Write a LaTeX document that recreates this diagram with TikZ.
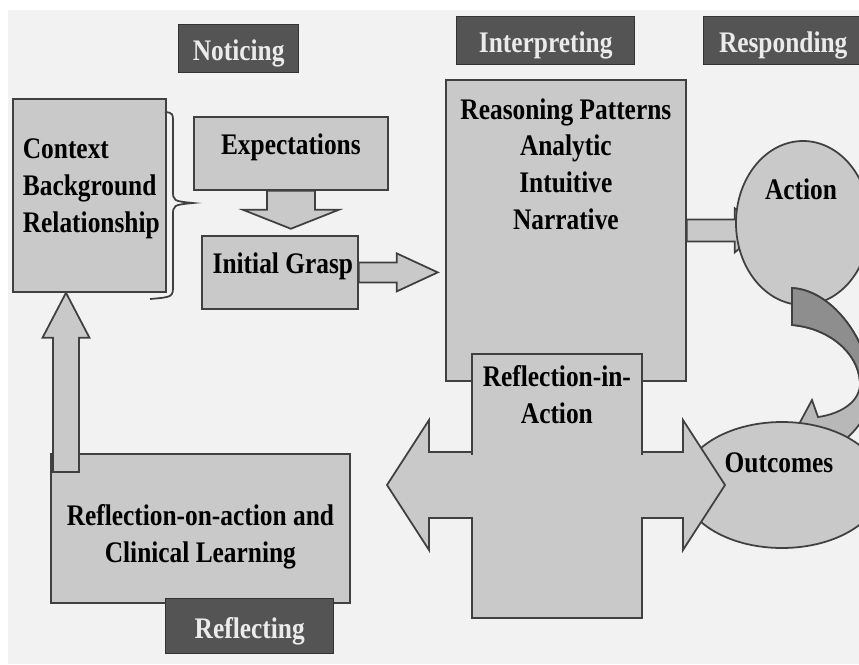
\documentclass[tikz,border=0pt]{standalone}
\usepackage{fontspec}
\newfontfamily\figfont{Liberation Serif}[FakeStretch=0.85]
\usetikzlibrary{positioning,calc,shapes.geometric}

\definecolor{pagegray}{HTML}{F2F2F2}
\definecolor{boxgray}{HTML}{C9C9C9}
\definecolor{tabgray}{HTML}{545454}
\definecolor{bendgray}{HTML}{8E8E8E}
\definecolor{bendlight}{HTML}{B8B8B8}
\newcommand{\px}{0.02cm}
\newcommand{\figtext}{\figfont\bfseries\fontsize{17}{21}\selectfont}

\tikzset{
  box/.style={draw=black!75, fill=boxgray, line width=1pt, inner sep=0pt, anchor=north west},
  tab/.style={draw=black!80, fill=tabgray, line width=0.8pt, inner sep=0pt, anchor=north west,
    text=white!92!black, font=\figtext, text height=13.5pt, text depth=0pt},
  oval/.style={ellipse, draw=black!75, fill=boxgray, line width=1pt, inner sep=0pt},
  txt/.style={font=\figtext, inner sep=0pt, align=center},
  fat/.style={draw=black!75, fill=boxgray, line width=1pt, line join=miter},
  % shaft half width, head half width, head length
  blockarrow/.style n args={3}{to path={
    ($(\tikztostart)!#1!90:(\tikztotarget)$)
    -- ($(\tikztotarget)!#3!(\tikztostart)!#1!90:(\tikztotarget)$)
    -- ($(\tikztotarget)!#3!(\tikztostart)!#2!90:(\tikztotarget)$)
    -- (\tikztotarget)
    -- ($(\tikztotarget)!#3!(\tikztostart)!#2!-90:(\tikztotarget)$)
    -- ($(\tikztotarget)!#3!(\tikztostart)!#1!-90:(\tikztotarget)$)
    -- ($(\tikztostart)!#1!-90:(\tikztotarget)$) -- cycle}},
  dblockarrow/.style n args={3}{to path={
    (\tikztostart)
    -- ($(\tikztostart)!#3!(\tikztotarget)!#2!90:(\tikztotarget)$)
    -- ($(\tikztostart)!#3!(\tikztotarget)!#1!90:(\tikztotarget)$)
    -- ($(\tikztotarget)!#3!(\tikztostart)!#1!90:(\tikztotarget)$)
    -- ($(\tikztotarget)!#3!(\tikztostart)!#2!90:(\tikztotarget)$)
    -- (\tikztotarget)
    -- ($(\tikztotarget)!#3!(\tikztostart)!#2!-90:(\tikztotarget)$)
    -- ($(\tikztotarget)!#3!(\tikztostart)!#1!-90:(\tikztotarget)$)
    -- ($(\tikztostart)!#3!(\tikztotarget)!#1!-90:(\tikztotarget)$)
    -- ($(\tikztostart)!#3!(\tikztotarget)!#2!-90:(\tikztotarget)$) -- cycle}},
}

\begin{document}
\begin{tikzpicture}[x=\px, y=-\px]
  \useasboundingbox (0,0) rectangle (859,664);
  \clip (0,0) rectangle (859,664);
  \fill[pagegray] (8,10) rectangle (859,664);

  % phase tabs
  \node[tab, minimum width=120*\px, minimum height=48*\px] (notice) at (178,24) {Noticing};
  \node[tab, minimum width=178*\px, minimum height=48*\px] (interpret) at (456,16) {Interpreting};
  \node[tab, minimum width=159*\px, minimum height=48*\px] (respond) at (703,16) {Responding};

  % noticing
  \node[box, minimum width=153*\px, minimum height=193*\px] (ctx) at (12,98) {};
  \draw[line width=1pt, black!75] (165,112) .. controls (173,113) .. (173,125) -- (173,190)
    .. controls (173,201) .. (193,203) .. controls (173,205) .. (173,216) -- (173,285)
    .. controls (173,297) .. (150,299);
  \node[box, minimum width=194*\px, minimum height=73*\px] (exp) at (193,116) {};
  \node[box, minimum width=156*\px, minimum height=73*\px] (grasp) at (201,235) {};
  \coordinate (exptip) at ($(exp.south)+(0,38)$);
  \draw[fat, blockarrow={24*\px}{48*\px}{19*\px}] (exp.south) to (exptip);
  \coordinate (grasptip) at ($(grasp.east)+(79,0)$);
  \draw[fat, blockarrow={10*\px}{19*\px}{41*\px}] (grasp.east) to (grasptip);

  % interpreting
  \node[box, minimum width=240*\px, minimum height=301*\px] (reas) at (445,79) {};
  \coordinate (reastip) at ($(reas.east)+(75,0)$);
  \draw[fat, blockarrow={11*\px}{22*\px}{27*\px}] (reas.east) to (reastip);

  % responding
  \node[oval, minimum width=134*\px, minimum height=164*\px] (action) at (803,223) {};
  \filldraw[fill=bendlight, draw=black!75, line width=1pt]
    (792,288) .. controls (830,290) and (866,335) .. (872,385)
    .. controls (874,408) and (858,430) .. (842,442) -- (798,426) -- (812,400) -- (818,417)
    .. controls (840,414) and (861,402) .. (860,382)
    .. controls (858,352) and (828,328) .. (792,325) -- cycle;
  \filldraw[fill=bendgray, draw=black!75, line width=1pt]
    (792,288) .. controls (830,290) and (866,335) .. (872,385) -- (860,382)
    .. controls (858,352) and (828,328) .. (792,325) -- cycle;
  \node[oval, minimum width=200*\px, minimum height=126*\px] (outcomes) at (782,485) {};

  % reflection in action
  \coordinate (inleft) at (387,485);
  \coordinate (inright) at (725,485);
  \draw[fat, dblockarrow={33*\px}{65*\px}{42*\px}] (inleft) to (inright);
  \node[box, minimum width=170*\px, minimum height=264*\px] (inact) at (471,353) {};
  \fill[boxgray] ($(inact.west)+(-4,-31)$) rectangle ($(inact.east)+(4,31)$);

  % reflecting
  \node[box, minimum width=299*\px, minimum height=149*\px] (onact) at (50,453) {};
  \coordinate (upfoot) at ($(onact.north west)+(16,19)$);
  \coordinate (uptip) at (upfoot |- ctx.south);
  \draw[fat, blockarrow={13*\px}{23.5*\px}{45*\px}] (upfoot) to (uptip);
  \node[tab, minimum width=168*\px, minimum height=55*\px] (reflect) at (165,598) {Reflecting};

  % texts
  \node[txt, align=left, below right=23pt and 6pt of ctx.north west] (ctxtxt) {Context\\Background\\Relationship};
  \node[txt, below=9.7pt of exp.north] (exptxt) {Expectations};
  \node[txt, below=9.7pt of grasp.north, xshift=3*\px] (grasptxt) {Initial Grasp};
  \node[txt, below=10.8pt of reas.north] (reastxt) {Reasoning Patterns\\Analytic\\Intuitive\\Narrative};
  \node[txt, below=22pt of action.north, xshift=-2*\px] (actiontxt) {Action};
  \node[txt, below=17.6pt of outcomes.north, xshift=-3*\px] (outtxt) {Outcomes};
  \node[txt, below=6.8pt of inact.north] (inacttxt) {Reflection-in-\\Action};
  \node[txt, below=29pt of onact.north] (onacttxt) {Reflection-on-action and\\Clinical Learning};
\end{tikzpicture}
\end{document}
